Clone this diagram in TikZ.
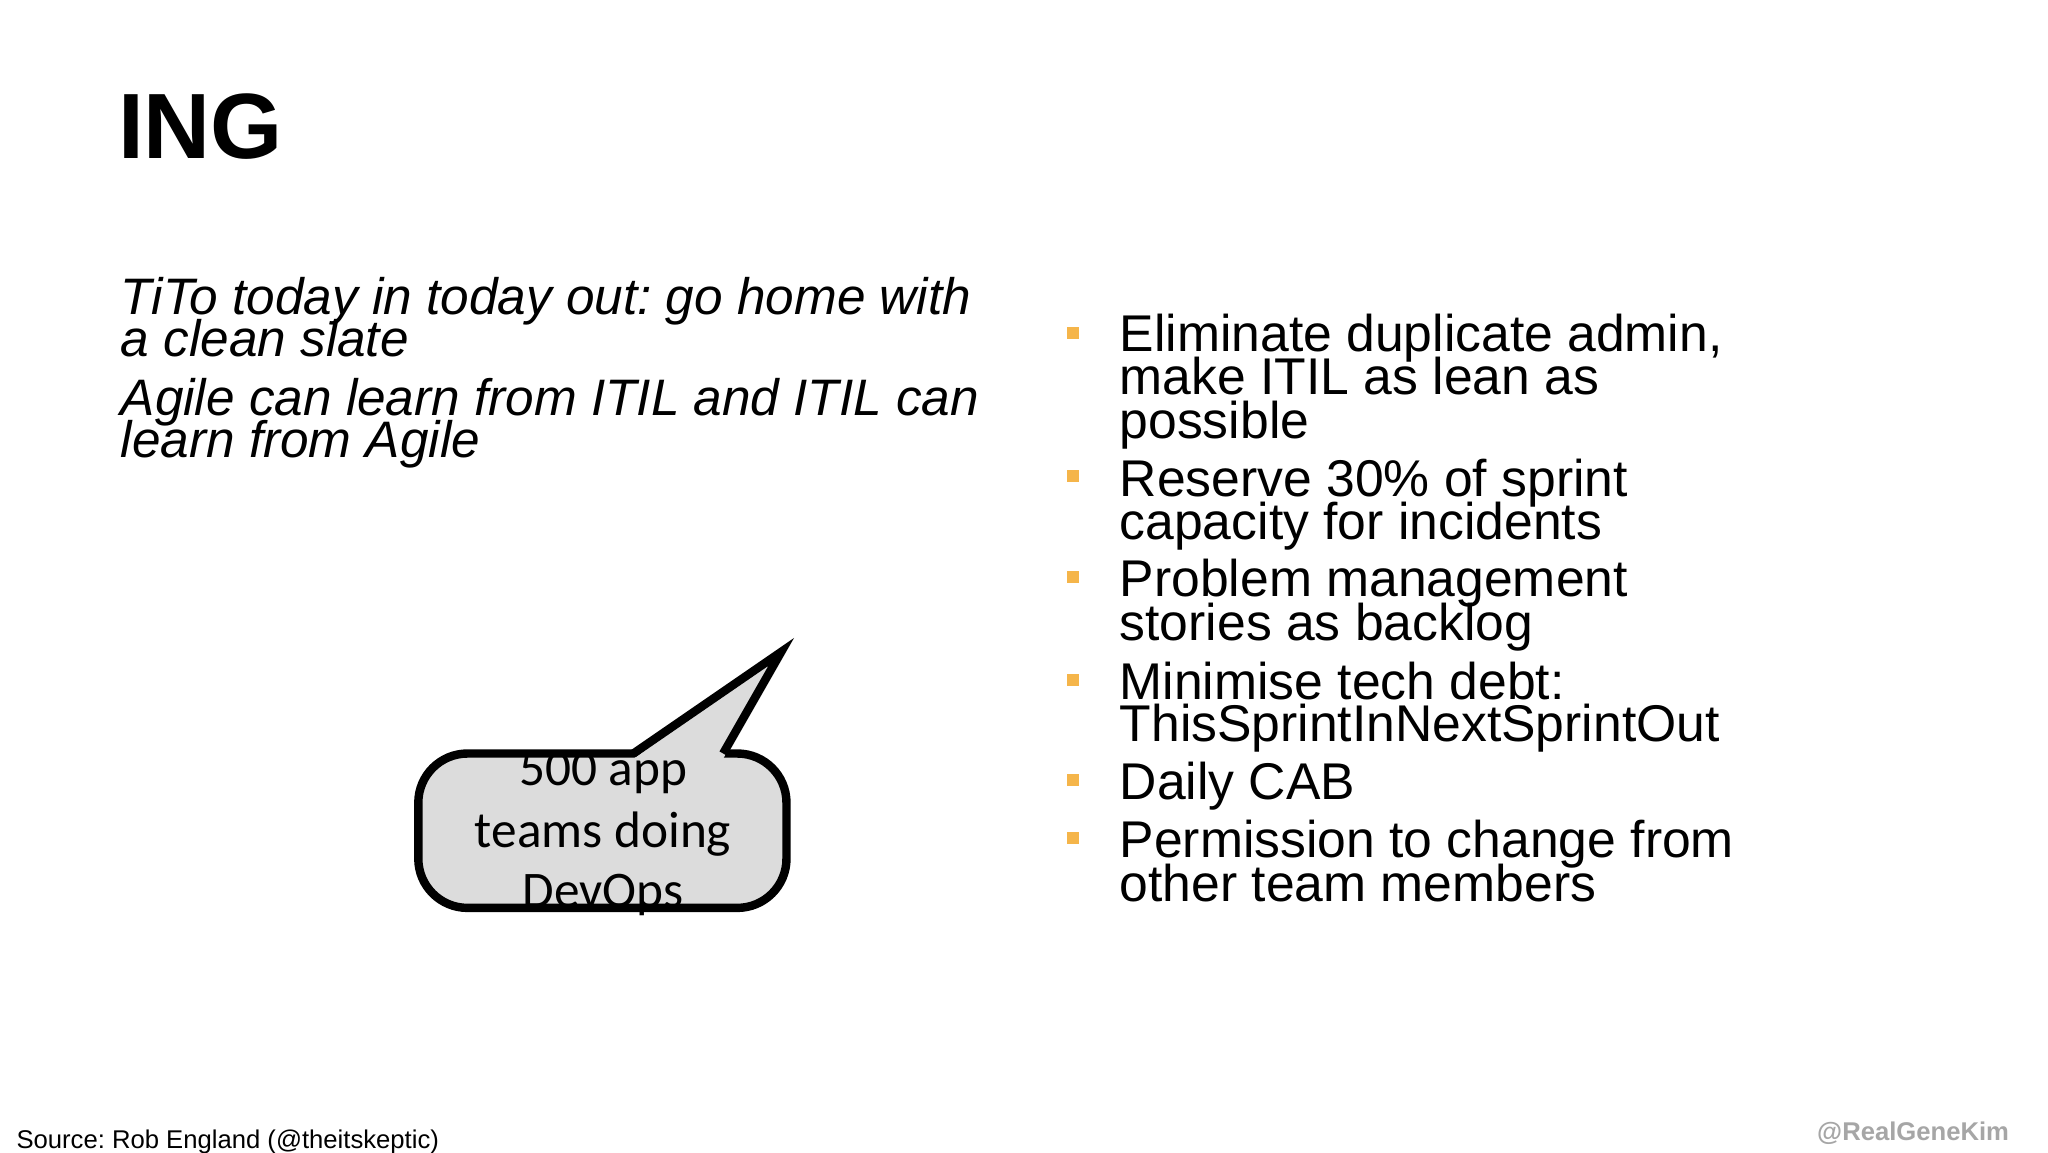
\documentclass[tikz,border=0pt]{standalone}
\usepackage{fontspec}
\setmainfont{Liberation Sans}
\newfontfamily\calib{Carlito}
\definecolor{bul}{HTML}{F5B54A}
\definecolor{bub}{HTML}{DCDCDC}
\frenchspacing
\begin{document}
\begin{tikzpicture}[x=0.013196cm,y=-0.013196cm,
  it/.style={anchor=base west,inner sep=0,font=\fontsize{14.6}{14.6}\selectfont\itshape},
  bt/.style={anchor=base west,inner sep=0,font=\fontsize{14.7}{14.7}\selectfont},
  bl/.style={fill=bul,minimum size=0.12cm,inner sep=0},
  ct/.style={anchor=base,inner sep=0,font=\calib\fontsize{14.6}{14.6}\selectfont}]
\useasboundingbox (0,0) rectangle (1552,873);
\fill[white] (0,0) rectangle (1552,873);
\node[anchor=base west,inner sep=0,font=\fontsize{26.4}{26.4}\selectfont\bfseries] (title) at (89,120) {ING};
\node[it] (l1) at (91,238) {TiTo today in today out: go home with};
\node[it] (l2) at (91,270) {a clean slate};
\node[it] (l3) at (91,315) {Agile can learn from ITIL and ITIL can};
\node[it] (l4) at (91,347) {learn from Agile};
\foreach \y/\t [count=\i] in {266/{Eliminate duplicate admin,},299/{make ITIL as lean as},332/{possible},376/{Reserve 30\% of sprint},409/{capacity for incidents},452/{Problem management},485/{stories as backlog},530/{Minimise tech debt:},562/{ThisSprintInNextSprintOut},606/{Daily CAB},650/{Permission to change from},683/{other team members}}
  \node[bt] (r\i) at (848,\y) {\t};
\foreach \y [count=\i] in {252,361,437,515,591,635}
  \node[bl] (b\i) at (813,\y) {};
\draw[line width=2.4pt,fill=bub,rounded corners=14] (317,571) rectangle (596,688);
\fill[bub] (480,575) -- (592,494) -- (548,575) -- cycle;
\draw[line width=2.4pt,line join=miter] (480,571) -- (592,494) -- (548,571);
\node[ct] (c1) at (457,595) {500 app};
\node[ct] (c2) at (457,642) {teams doing};
\node[ct] (c3) at (457,688) {DevOps};
\node[anchor=base west,inner sep=0,font=\fontsize{7.3}{7.3}\selectfont] (src) at (12,870) {Source: Rob England (@theitskeptic)};
\node[anchor=base east,inner sep=0,text=gray!70,font=\fontsize{7.3}{7.3}\selectfont\bfseries] (gk) at (1523,864) {@RealGeneKim};
\end{tikzpicture}
\end{document}
